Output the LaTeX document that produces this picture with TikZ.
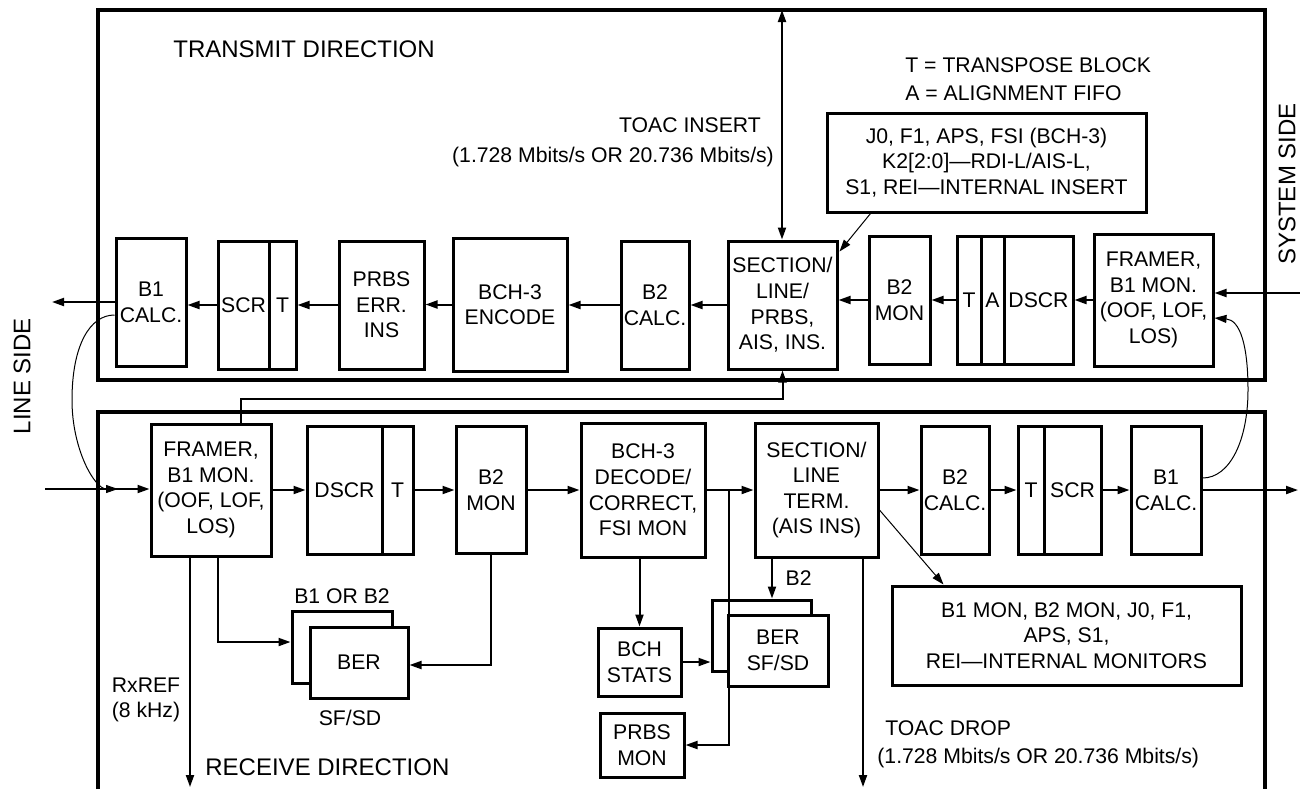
\documentclass[tikz,border=0pt]{standalone}
\usepackage{fontspec}
\setmainfont{Liberation Sans}
\usetikzlibrary{arrows.meta,calc,positioning}
\begin{document}
\begin{tikzpicture}[x=.5pt,y=-.5pt,>={Triangle[length=6pt,width=4pt]},
  font=\fontsize{10.6}{12.8}\selectfont,
  blk/.style={draw,line width=1.5pt,align=center,inner sep=0pt,fill=white},
  sz/.style args={#1/#2}{minimum width=#1*.5pt,minimum height=#2*.5pt},
  frame/.style={line width=1.6pt},
  flow/.style={line width=1pt,->},
  hook/.style={line width=.5pt,->},
  lbl/.style={inner sep=0pt,align=left},
  big/.style={inner sep=0pt,font=\fontsize{12}{14}\selectfont}]
  \useasboundingbox (0,0) rectangle (1300,789);
  % the two halves
  \draw[frame] (98,10) rectangle (1265,380);
  \draw[frame] (98,789) -- (98,412) -- (1265,412) -- (1265,789);
  \node[big,anchor=west] (txdir) at (173,49) {TRANSMIT DIRECTION};
  \node[big,anchor=west] (rxdir) at (205,767) {RECEIVE DIRECTION};
  \node[big,rotate=90] (lside) at (22,376) {LINE SIDE};
  \node[big,rotate=90] (sside) at (1287,184) {SYSTEM SIDE};
  \node[lbl,anchor=west] (key1) at (905,65) {T = TRANSPOSE BLOCK};
  \node[lbl,anchor=west] (key2) at (905,93) {A = ALIGNMENT FIFO};
  \node[lbl] (toacin1) at (690,125) {TOAC INSERT};
  \node[lbl] (toacin2) at (613,157) {(1.728 Mbits/s OR 20.736 Mbits/s)};
  \node[lbl,anchor=west] (toacdr1) at (885,728) {TOAC DROP};
  \node[lbl,anchor=west] (toacdr2) at (877,758) {(1.728 Mbits/s OR 20.736 Mbits/s)};
  \node[lbl] (rxref) at (146,700) {RxREF\\(8 kHz)};
  % transmit path
  \node[blk,sz=70/128] (tB1) at (151,302) {B1\\CALC.};
  \node[blk,sz=51/128] (tSCR) at (243.5,305) {SCR};
  \node[blk,sz=27/128,right=-1.5pt of tSCR] (tT) {T};
  \node[blk,sz=85/128] (tPRBS) at (381.5,305) {PRBS\\ERR.\\INS};
  \node[blk,sz=114/133] (tBCH) at (510,304.5) {BCH-3\\ENCODE};
  \node[blk,sz=68/128] (tB2) at (655,305) {B2\\CALC.};
  \node[blk,sz=109/128] (tSEC) at (782.5,305) {SECTION/\\LINE/\\PRBS,\\AIS, INS.};
  \node[blk,sz=61/128] (tB2M) at (899.5,300) {B2\\MON};
  \node[blk,sz=69/128] (tDSCR) at (1038.5,300) {DSCR};
  \node[blk,sz=23/128,left=-1.5pt of tDSCR] (tA) {A};
  \node[blk,sz=24/128,left=-1.5pt of tA] (tT2) {T};
  \node[blk,sz=119/132] (tFR) at (1153.5,300) {FRAMER,\\B1 MON.\\(OOF, LOF,\\LOS)};
  \node[blk,sz=319/99] (tJ0) at (986.5,162.5)
    {J0, F1, APS, FSI (BCH-3)\\K2[2:0]—RDI-L/AIS-L,\\S1, REI—INTERNAL INSERT};
  \coordinate (sysin) at (1300,293);
  \coordinate (lout) at (52,302);
  \coordinate (toac) at (782,10);
  \draw[flow] (sysin) -- (sysin -| tFR.east);
  \draw[flow] (tFR.west) -- (tDSCR.east);
  \draw[flow] (tT2.west) -- (tB2M.east);
  \draw[flow] (tB2M.west) -- (tB2M.west -| tSEC.east);
  \draw[flow] (tSEC.west) -- (tB2.east);
  \draw[flow] (tB2.west) -- (tB2.west -| tBCH.east);
  \draw[flow] (tBCH.west) -- (tBCH.west -| tPRBS.east);
  \draw[flow] (tPRBS.west) -- (tT.east);
  \draw[flow] (tSCR.west) -- (tSCR.west -| tB1.east);
  \draw[flow] (tB1.west) -- (lout);
  \draw[flow,<->] (toac) -- (toac |- tSEC.north);
  \draw[hook] ($(tJ0.south west)+(45,0)$) -- ($(tSEC.north east)+(1,12)$);
  % receive path
  \node[blk,sz=120/132] (rFR) at (211,490) {FRAMER,\\B1 MON.\\(OOF, LOF,\\LOS)};
  \node[blk,sz=75/128] (rDSCR) at (344.5,490) {DSCR};
  \node[blk,sz=31/128,right=-1.5pt of rDSCR] (rT) {T};
  \node[blk,sz=70/127] (rB2M) at (491,490) {B2\\MON};
  \node[blk,sz=124/134] (rBCH) at (643,490) {BCH-3\\DECODE/\\CORRECT,\\FSI MON};
  \node[blk,sz=123/134] (rSEC) at (816.5,490) {SECTION/\\LINE\\TERM.\\(AIS INS)};
  \node[blk,sz=68/128] (rB2) at (955,490) {B2\\CALC.};
  \node[blk,sz=26/128] (rT2) at (1031,490) {T};
  \node[blk,sz=57/128,right=-1.5pt of rT2] (rSCR) {SCR};
  \node[blk,sz=70/128] (rB1) at (1166,490) {B1\\CALC.};
  \node[blk,sz=349/99] (rMON) at (1066.5,635.5)
    {B1 MON, B2 MON, J0, F1,\\APS, S1,\\REI—INTERNAL MONITORS};
  \node[blk,sz=100/72] (ber1b) at (342,647) {};
  \node[blk,sz=98/71] (ber1) at (359,662.5) {BER};
  \node[lbl] (ber1t) at (342,596) {B1 OR B2};
  \node[lbl] (ber1s) at (350,718) {SF/SD};
  \node[blk,sz=83/68] (stats) at (639.5,662) {BCH\\STATS};
  \node[blk,sz=99/71] (ber2b) at (761.5,635.5) {};
  \node[blk,sz=100/71] (ber2) at (778,650.5) {BER\\SF/SD};
  \node[blk,sz=84/64] (prbs) at (642,745) {PRBS\\MON};
  \coordinate (lin) at (45,489);
  \coordinate (sysout) at (1298,490);
  \coordinate (refout) at (190,787);
  \coordinate (dropout) at (863,787);
  \coordinate (tap) at (729,490);
  \coordinate (lhook) at (118,489);
  \draw[flow] (lin) -- (lin -| rFR.west);
  \draw[flow] (rFR.east) -- (rDSCR.west);
  \draw[flow] (rT.east) -- (rB2M.west);
  \draw[flow] (rB2M.east) -- (rBCH.west);
  \draw[flow] (rBCH.east) -- (rSEC.west);
  \draw[flow] (rSEC.east) -- (rB2.west);
  \draw[flow] (rB2.east) -- (rT2.west);
  \draw[flow] (rSCR.east) -- (rB1.west);
  \draw[flow] (rB1.east) -- (sysout);
  \draw[flow] (rFR.south -| refout) -- (refout);
  \draw[flow] ($(rFR.south)+(7,0)$) |- ($(ber1b.west)+(0,-5)$);
  \draw[flow] (rB2M.south) |- ($(ber1.east)+(0,2.5)$);
  \draw[flow] (rBCH.south -| stats.north) -- (stats.north);
  \draw[flow] (stats.east) -- (stats.east -| ber2b.west);
  \draw[flow] (tap) |- (prbs.east);
  \draw[flow] ($(rSEC.south)+(-44.5,0)$) coordinate (b2top) -- (b2top |- ber2b.north)
    node[midway,right=3pt] {B2};
  \draw[flow] (rSEC.south -| dropout) -- (dropout);
  \draw[hook] ($(rSEC.east)+(0,20)$) -- ($(rMON.north west)+(53,0)$);
  \draw[flow] ($(rFR.north)+(30,0)$) -- ++(0,-24) -| (tSEC.south);
  % loop-back curves
  \draw[hook] ($(tB1.west)+(0,13)$) .. controls (90,315) and (72,345) .. (72,400)
    .. controls (72,450) and (95,489) .. (lhook);
  \draw[hook] ($(rB1.east)+(0,-12)$) .. controls (1230,478) and (1248,440) .. (1248,390)
    .. controls (1248,345) and (1240,320) .. ($(tFR.east)+(0,18)$);
\end{tikzpicture}
\end{document}
